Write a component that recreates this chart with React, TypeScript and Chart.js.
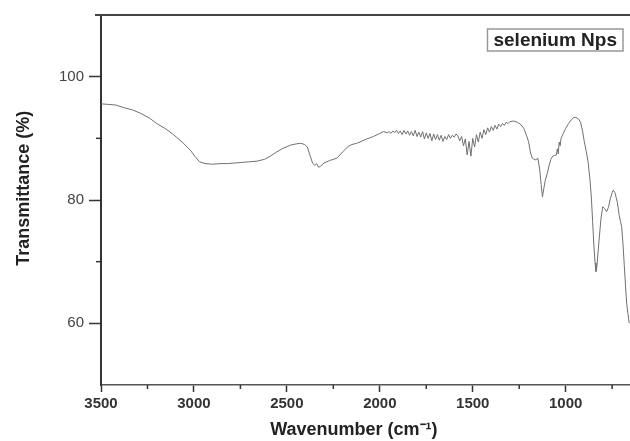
import React, { useEffect, useRef } from "react";
import { Chart, registerables } from "chart.js";

Chart.register(...registerables);

const seriesLabel = "selenium Nps";
const xTitle = "Wavenumber (cm\u207B\u00B9)";
const yTitle = "Transmittance (%)";

const wavenumbers = [
  3500, 3460, 3420, 3380, 3330, 3290, 3240, 3200, 3150, 3110, 3060, 3020, 2990, 2970, 2940, 2900,
  2860, 2820, 2780, 2740, 2700, 2660, 2620, 2590, 2560, 2520, 2480, 2450, 2425, 2405, 2390, 2375,
  2362, 2350, 2340, 2330, 2318, 2300, 2270, 2230, 2200, 2170, 2150, 2124, 2100, 2070, 2034, 2000,
  1980, 1960, 1950, 1940, 1930, 1920, 1910, 1900, 1890, 1880, 1870, 1860, 1850, 1840, 1830, 1820,
  1810, 1800, 1790, 1780, 1770, 1760, 1750, 1740, 1730, 1720, 1710, 1700, 1690, 1680, 1670, 1660,
  1650, 1640, 1630, 1620, 1610, 1600, 1590, 1580, 1570, 1560, 1550, 1540, 1530, 1520, 1510, 1500,
  1490, 1480, 1470, 1460, 1450, 1440, 1430, 1420, 1410, 1400, 1390, 1380, 1370, 1360, 1350, 1340,
  1330, 1320, 1310, 1300, 1280, 1260, 1240, 1225, 1210, 1200, 1190, 1180, 1170, 1160, 1150, 1140,
  1132, 1125, 1118, 1110, 1100, 1090, 1080, 1070, 1060, 1050, 1045, 1040, 1035, 1030, 1025, 1013,
  1000, 985, 970, 955, 945, 930, 920, 910, 900, 890, 880, 870, 862, 855, 848, 842,
  837, 832, 826, 819, 810, 801, 790, 780, 770, 760, 750, 744, 735, 722, 712, 705,
  699, 692, 685, 678, 672, 665, 658,
];

const transmittance = [
  95.6, 95.5, 95.4, 95.0, 94.6, 94.1, 93.3, 92.4, 91.5, 90.6, 89.3, 88.1, 86.9, 86.2, 85.9, 85.8,
  85.9, 85.9, 86.0, 86.1, 86.2, 86.3, 86.6, 87.1, 87.7, 88.4, 88.9, 89.1, 89.2, 89.0, 88.6, 87.2,
  86.0, 85.6, 85.9, 85.3, 85.5, 86.0, 86.4, 86.8, 87.8, 88.7, 89.0, 89.2, 89.5, 89.9, 90.3, 90.8,
  91.1, 90.9, 91.1, 90.8, 91.2, 90.9, 91.3, 90.8, 91.2, 90.6, 91.3, 90.7, 91.2, 90.5, 91.1, 90.4,
  91.3, 90.3, 91.0, 90.2, 91.1, 89.9, 90.9, 90.0, 90.8, 89.6, 90.7, 89.8, 90.6, 89.7, 90.5, 89.5,
  90.3, 89.8, 90.6, 90.0, 90.5, 90.2, 90.7, 90.4, 89.6, 90.3, 88.8, 89.9, 87.3, 89.5, 87.1, 90.0,
  88.6, 90.6, 89.4, 91.0, 90.0, 91.4, 90.6, 91.7, 91.0, 91.9, 91.3, 92.1, 91.5, 92.3, 91.9, 92.4,
  92.1, 92.6, 92.4, 92.7, 92.8, 92.6, 92.2, 91.6, 90.4, 89.5, 87.8, 86.8, 86.6, 86.5, 86.8, 85.0,
  82.5, 80.5, 81.8, 83.2, 84.2, 85.5, 86.6, 87.1, 87.2, 87.3, 88.3, 87.5, 89.4, 88.8, 90.0, 90.8,
  91.6, 92.4, 93.0, 93.4, 93.4, 93.1, 92.6, 91.3, 89.5, 88.0, 86.3, 83.5, 80.5, 76.5, 72.5, 69.8,
  68.4, 69.2, 71.5, 74.0, 77.0, 78.9, 78.6, 78.1, 78.8, 80.2, 81.2, 81.6, 81.2, 79.6, 77.5, 76.5,
  75.7, 73.0, 69.5, 66.0, 63.3, 61.5, 60.0,
];

const xMajorTicks = [3500, 3000, 2500, 2000, 1500, 1000];
const xMinorTicks = [3250, 2750, 2250, 1750, 1250, 750];
const yMajorTicks = [60, 80, 100];
const yMinorTicks = [70, 90];

const FONT = "'Liberation Sans', Arial, sans-serif";

const decorPlugin = {
  id: "decor",
  afterDraw(chart: any) {
    const { ctx, chartArea, scales } = chart;
    ctx.save();
    // top frame line
    ctx.strokeStyle = "#444";
    ctx.lineWidth = 2;
    ctx.beginPath();
    ctx.moveTo(chartArea.left - 6, chartArea.top);
    ctx.lineTo(chartArea.right, chartArea.top);
    ctx.stroke();
    // minor ticks
    ctx.strokeStyle = "#333";
    ctx.lineWidth = 1.5;
    xMinorTicks.forEach((v) => {
      const px = scales.x.getPixelForValue(v);
      ctx.beginPath();
      ctx.moveTo(px, chartArea.bottom);
      ctx.lineTo(px, chartArea.bottom + 4);
      ctx.stroke();
    });
    yMinorTicks.forEach((v) => {
      const py = scales.y.getPixelForValue(v);
      ctx.beginPath();
      ctx.moveTo(chartArea.left, py);
      ctx.lineTo(chartArea.left - 5, py);
      ctx.stroke();
    });
    // axis titles
    const w = chartArea.right - chartArea.left;
    const h = chartArea.bottom - chartArea.top;
    ctx.fillStyle = "#222";
    ctx.textAlign = "center";
    ctx.textBaseline = "middle";
    ctx.font = `bold 18px ${FONT}`;
    ctx.fillText(xTitle, chartArea.left + w * 0.478, chartArea.bottom + 45);
    ctx.save();
    ctx.translate(24, chartArea.top + h * 0.468);
    ctx.rotate(-Math.PI / 2);
    ctx.fillText(yTitle, 0, 0);
    ctx.restore();
    // legend box
    const label = chart.data.datasets[0].label;
    ctx.font = `bold 19px ${FONT}`;
    const tw = ctx.measureText(label).width;
    const bx = chartArea.right - 7 - tw - 12;
    const by = chartArea.top + 14;
    ctx.strokeStyle = "#999";
    ctx.lineWidth = 1.5;
    ctx.strokeRect(bx, by, tw + 12, 22);
    ctx.fillStyle = "#222";
    ctx.textBaseline = "middle";
    ctx.textAlign = "left";
    ctx.fillText(label, bx + 6, by + 11.5);
    ctx.restore();
  },
};

export default function App() {
  const canvasRef = useRef<HTMLCanvasElement | null>(null);

  useEffect(() => {
    if (!canvasRef.current) return;
    const points = wavenumbers.map((w, i) => ({ x: w, y: transmittance[i] }));
    const chart = new Chart(canvasRef.current, {
      type: "line",
      data: {
        datasets: [
          {
            label: seriesLabel,
            data: points,
            borderColor: "#707070",
            borderWidth: 1,
            pointRadius: 0,
            tension: 0,
            fill: false,
          },
        ],
      },
      options: {
        animation: false,
        responsive: true,
        maintainAspectRatio: false,
        layout: { padding: { top: 15, right: 0, bottom: 0, left: 0 } },
        plugins: { legend: { display: false }, tooltip: { enabled: false } },
        scales: {
          x: {
            type: "linear",
            reverse: true,
            min: 654,
            max: 3500,
            afterBuildTicks: (scale: any) => {
              scale.ticks = xMajorTicks.map((v) => ({ value: v }));
            },
            afterFit: (scale: any) => {
              scale.height = 56;
            },
            grid: { drawOnChartArea: false, drawTicks: true, tickLength: 7, tickColor: "#333", tickWidth: 1.5 },
            border: { display: true, color: "#555", width: 1.5 },
            ticks: {
              autoSkip: false,
              maxRotation: 0,
              padding: 3,
              color: "#333",
              font: { family: FONT, size: 15, weight: "bold" },
              callback: (v: any) => String(v),
            },
            title: { display: false },
          },
          y: {
            type: "linear",
            min: 50,
            max: 110,
            afterBuildTicks: (scale: any) => {
              scale.ticks = yMajorTicks.map((v) => ({ value: v }));
            },
            afterFit: (scale: any) => {
              scale.width = 101;
            },
            grid: { drawOnChartArea: false, drawTicks: true, tickLength: 12, tickColor: "#333", tickWidth: 1.5 },
            border: { display: true, color: "#333", width: 2 },
            ticks: {
              autoSkip: false,
              padding: 5,
              color: "#444",
              font: { family: FONT, size: 15 },
              callback: (v: any) => String(v),
            },
            title: { display: false },
          },
        },
      },
      plugins: [decorPlugin],
    });
    return () => chart.destroy();
  }, []);

  return (
    <div style={{ position: "absolute", left: 0, top: 0, width: 630, height: 441, background: "#fff" }}>
      <canvas ref={canvasRef} />
    </div>
  );
}
